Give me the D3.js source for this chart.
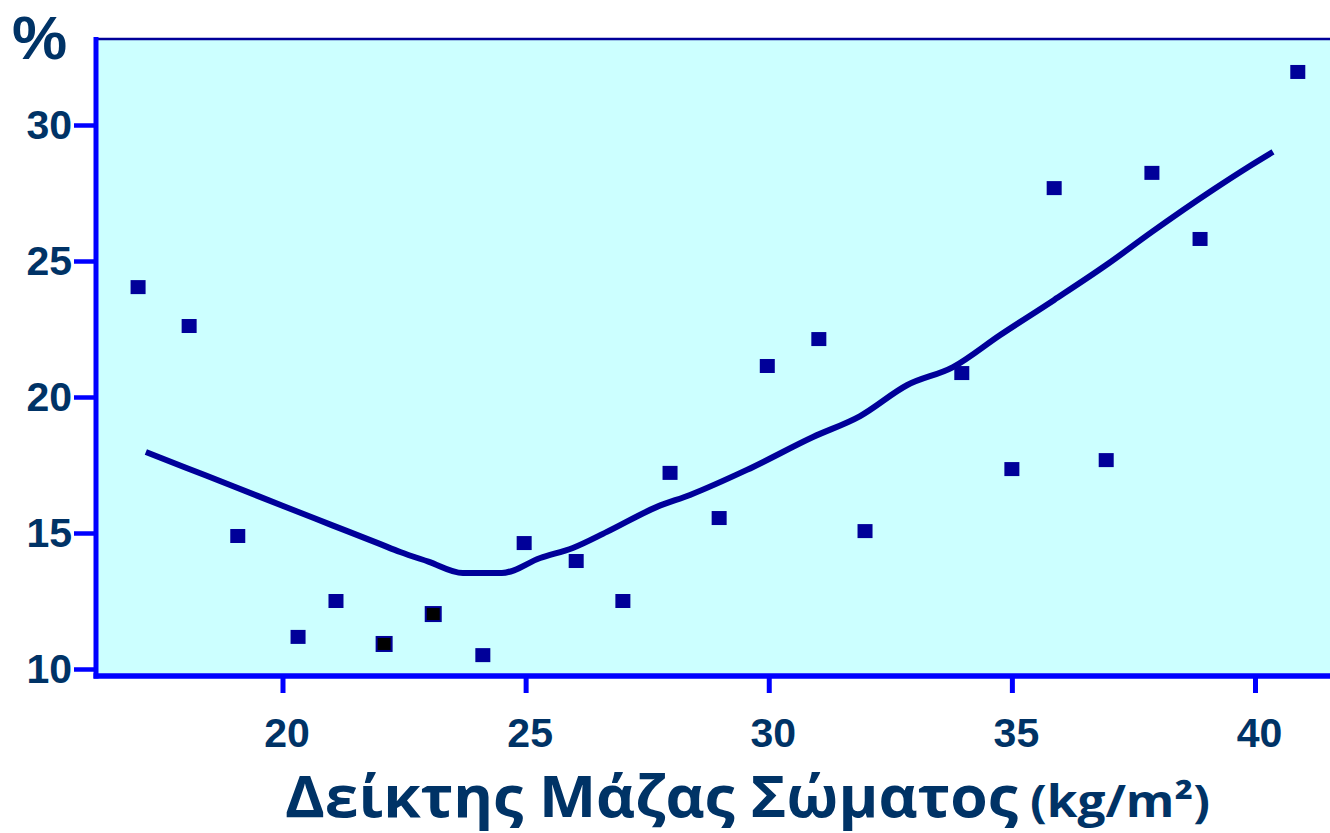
<!DOCTYPE html>
<html><head><meta charset="utf-8">
<script src="https://cdn.jsdelivr.net/npm/d3@7"></script>
<style>
html,body{margin:0;padding:0;background:#fff;}
svg{display:block;}
text{font-family:"Liberation Sans",Arial,sans-serif;font-weight:bold;fill:#003366;}
</style></head>
<body>
<svg id="chart" width="1330" height="833"></svg>
<script>
// ---- data ----
const bmi   = [17.03,18.08,19.08,20.32,21.10,22.09,23.10,24.12,24.97,26.04,27.00,27.97,28.98,29.97,31.03,31.98,33.97,35.00,35.87,36.94,37.88,38.87,40.88];
const pct   = [24.04,22.61,14.89,11.18,12.50,10.92,12.02,10.51,14.63,13.97,12.50,17.21,15.55,21.14,22.13,15.07,20.88,17.35,27.68,17.68,28.24,25.81,31.95];
const fitX  = [17.19,18.0,19.0,20.0,21.0,22.0,22.42,23.0,23.71,24.51,25.30,25.97,26.67,27.70,28.38,29.55,30.91,31.88,32.85,33.79,34.76,35.87,36.94,37.88,39.13,39.83,40.37];
const fitY  = [17.98,17.41,16.71,16.00,15.30,14.60,14.30,13.95,13.53,13.53,14.08,14.45,15.04,15.96,16.40,17.32,18.53,19.30,20.44,21.10,22.28,23.57,24.85,26.07,27.61,28.42,29.01];
const xTicks = [20,25,30,35,40];
const yTicks = [10,15,20,25,30];
const yLabel = "%";
const xTitle = "Δείκτης Μάζας Σώματος";
const xUnit  = "(kg/m²)";

const svg = d3.select("#chart");
const x = d3.scaleLinear().domain([20,40]).range([282.5,1255]);
const y = d3.scaleLinear().domain([10,30]).range([669,125]);

const L = 96, R = 1330, T = 39, B = 676;

// plot background
svg.append("rect").attr("x",L).attr("y",T).attr("width",R-L).attr("height",B-T).attr("fill","#CCFFFF");
// top border
svg.append("line").attr("x1",L).attr("x2",R).attr("y1",T).attr("y2",T).attr("stroke","#000099").attr("stroke-width",2.5);

// fitted curve
const line = d3.line().x((d,i)=>x(fitX[i])).y((d,i)=>y(fitY[i])).curve(d3.curveMonotoneX);
svg.append("path").datum(fitX).attr("d",line).attr("fill","none")
  .attr("stroke","#000099").attr("stroke-width",6).attr("stroke-linecap","butt").attr("stroke-linejoin","round");

// points
svg.append("g").selectAll("rect").data(bmi).join("rect")
  .attr("x",(d)=>x(d)-7.5).attr("y",(d,i)=>y(pct[i])-7)
  .attr("width",15).attr("height",14)
  .attr("fill",(d,i)=> (i===5||i===6) ? "#000000" : "#000099")
  .attr("stroke","#000099").attr("stroke-width",(d,i)=> (i===5||i===6)?2:0);

// axes
const yAxis = d3.axisLeft(y).tickValues(yTicks).tickSize(22).tickPadding(2).tickFormat(d3.format("d"));
const gy = svg.append("g").attr("transform",`translate(${L},0)`).call(yAxis);
gy.select(".domain").remove();
gy.selectAll(".tick line").attr("stroke","#0000FF").attr("stroke-width",4.5);
gy.selectAll(".tick text").style("font-size","41px").style("fill","#003366");

const xAxis = d3.axisBottom(x).tickValues(xTicks).tickSize(17).tickPadding(25).tickFormat(d3.format("d"));
const gx = svg.append("g").attr("transform",`translate(0,${B})`).call(xAxis);
gx.select(".domain").remove();
gx.selectAll(".tick line").attr("stroke","#0000FF").attr("stroke-width",5);
gx.selectAll(".tick text").style("font-size","41px").style("fill","#003366").attr("dx","4");

// axis lines
svg.append("line").attr("x1",L).attr("x2",L).attr("y1",T-2).attr("y2",B+2.5).attr("stroke","#0000FF").attr("stroke-width",5);
svg.append("line").attr("x1",L-2.5).attr("x2",R).attr("y1",B).attr("y2",B).attr("stroke","#0000FF").attr("stroke-width",5.5);

// y label
svg.append("text").attr("x",12).attr("y",59).style("font-size","62px").text(yLabel);

// x title
svg.append("text").attr("x",285).attr("y",817)
  .style("font-family","'Open Sans', sans-serif").style("font-weight","700").style("font-size","57px")
  .attr("textLength",733).attr("lengthAdjust","spacingAndGlyphs").text(xTitle);
svg.append("text").attr("x",1030).attr("y",817)
  .style("font-family","'Open Sans', sans-serif").style("font-weight","700").style("font-size","44px")
  .attr("textLength",180).attr("lengthAdjust","spacingAndGlyphs").text(xUnit);
</script>
</body></html>
